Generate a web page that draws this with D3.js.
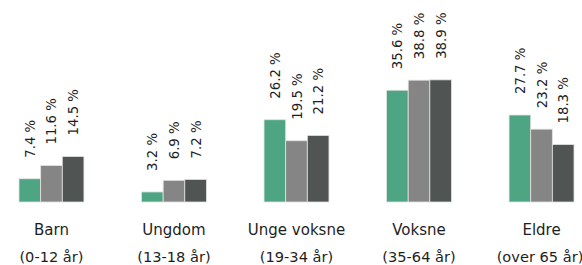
<!DOCTYPE html>
<html>
<head>
<meta charset="utf-8">
<script src="https://cdn.jsdelivr.net/npm/d3@7"></script>
<style>
  html, body { margin: 0; padding: 0; background: #ffffff; }
  svg { display: block; }
  text { font-family: "DejaVu Sans", sans-serif; fill: #1e1e1e; }
</style>
</head>
<body>
<svg id="chart" width="582" height="265"></svg>
<script>
const categories = ["Barn", "Ungdom", "Unge voksne", "Voksne", "Eldre"];
const subLabels = ["(0-12 år)", "(13-18 år)", "(19-34 år)", "(35-64 år)", "(over 65 år)"];
const seriesNames = ["Serie 1", "Serie 2", "Serie 3"];
const series1 = [7.4, 3.2, 26.2, 35.6, 27.7];
const series2 = [11.6, 6.9, 19.5, 38.8, 23.2];
const series3 = [14.5, 7.2, 21.2, 38.9, 18.3];
const colors = ["#4ea584", "#848584", "#505453"];

const allSeries = [series1, series2, series3];
const svg = d3.select("#chart");

const x0 = d3.scaleBand().domain(categories).range([19, 574]).paddingInner(0.47).paddingOuter(0);
const x1 = d3.scaleBand().domain(seriesNames).range([0, x0.bandwidth()]).padding(0);
const y = d3.scaleLinear().domain([0, 40]).range([202, 76.4]);

const groups = svg.selectAll("g.grp").data(categories).join("g")
  .attr("class", "grp")
  .attr("transform", d => `translate(${x0(d)},0)`);

groups.each(function(cat, ci) {
  const g = d3.select(this);
  seriesNames.forEach((s, si) => {
    const v = allSeries[si][ci];
    g.append("rect")
      .attr("x", x1(s))
      .attr("y", y(v))
      .attr("width", x1.bandwidth())
      .attr("height", y(0) - y(v))
      .attr("fill", colors[si])
      .attr("stroke", "#e2e2e2")
      .attr("stroke-width", 0.8);
    const cx = x1(s) + x1.bandwidth() / 2;
    g.append("text")
      .attr("transform", `translate(${cx + 5},${y(v) - 21}) rotate(-90)`)
      .attr("text-anchor", "start")
      .attr("font-size", 13.3)
      .text(v.toFixed(1) + " %");
  });
  g.append("text")
    .attr("x", x0.bandwidth() / 2)
    .attr("y", 235)
    .attr("text-anchor", "middle")
    .attr("font-size", 15)
    .text(cat);
  g.append("text")
    .attr("x", x0.bandwidth() / 2 - (ci === categories.length - 1 ? 1.5 : 0))
    .attr("y", 262)
    .attr("text-anchor", "middle")
    .attr("font-size", 14.6)
    .text(subLabels[ci]);
});
</script>
</body>
</html>
